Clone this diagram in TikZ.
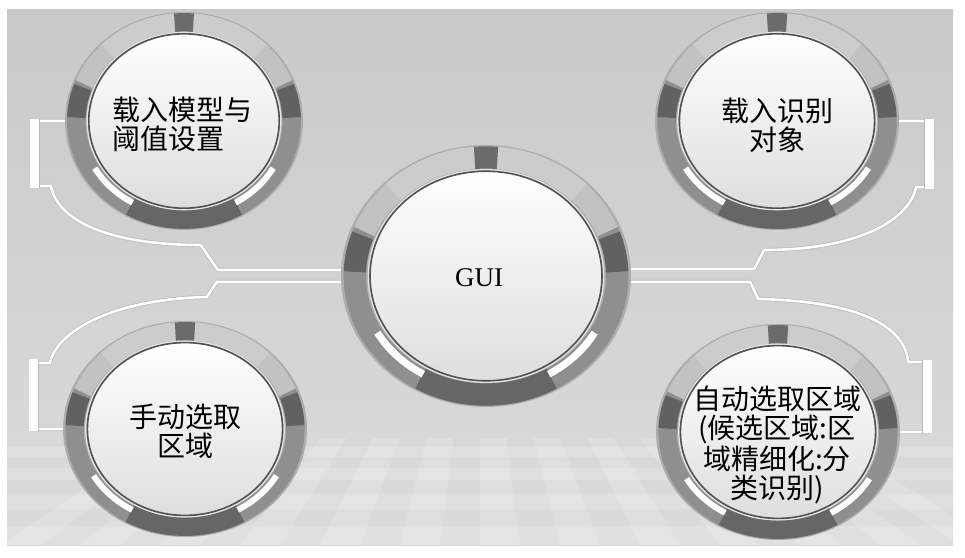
\documentclass[tikz,border=0pt]{standalone}
\usepackage{fontspec}
\setmainfont{Liberation Serif}
\newfontfamily\cjk{Noto Sans CJK SC}
\usetikzlibrary{shapes.geometric, calc}

\tikzset{
    dialshape/.style={ellipse, draw=none, inner sep=0pt},
    dialtext/.style={font=\cjk\fontsize{28}{29}\selectfont, align=center, inner sep=0pt},
    track/.style={draw=black!28, double=white, double distance=2.6pt, line width=0.7pt},
    trackbar/.style={draw=black!28, double=white, double distance=9pt, line width=0.7pt},
}

% ring round a dial node: node, x radius, y radius
\newcommand{\dialring}[3]{%
    \pgfmathsetmacro{\rout}{#3}
    \pgfmathsetmacro{\rmid}{0.905*#3}
    \pgfmathsetmacro{\rstrip}{0.865*#3}
    \pgfmathsetmacro{\bandw}{0.17*#3}
    \pgfmathsetmacro{\stripw}{0.055*#3}
    \pgfmathsetmacro{\rin}{0.80*#3}
    \begin{scope}[shift={(#1.center)}, xscale=#2/#3]
        \fill[black!32] (0,0) circle[radius=\rout];
        \draw[black!44, line width=\bandw pt] (0,0) circle[radius=\rmid];
        \foreach \a/\b/\c in {22/158/black!24, 45/135/black!20, 2/20/black!62, 160/178/black!62,
                              240/300/black!60, 85/95/black!58}
            \draw[\c, line width=\bandw pt] (\a:\rmid) arc[start angle=\a, end angle=\b, radius=\rmid];
        \foreach \a/\b in {210/240, 300/330}
            \draw[white, line width=\stripw pt] (\a:\rstrip) arc[start angle=\a, end angle=\b, radius=\rstrip];
        \draw[black!10, line width=1.4pt] (0,0) circle[radius=\rin+1.4];
        \draw[black!68, line width=1.6pt, top color=white, bottom color=black!13] (0,0) circle[radius=\rin];
    \end{scope}}

\begin{document}
\begin{tikzpicture}[x=1pt, y=1pt]
    \useasboundingbox (0,0) rectangle (965,557);

    \node[dialshape, minimum width=238, minimum height=218] (tl) at (184,436) {};
    \node[dialshape, minimum width=244, minimum height=218] (tr) at (777,436) {};
    \node[dialshape, minimum width=290, minimum height=262] (gui) at (486,281) {};
    \node[dialshape, minimum width=244, minimum height=216] (bl) at (185,128) {};
    \node[dialshape, minimum width=244, minimum height=216] (br) at (778,125) {};

    % panel and floor
    \fill[top color=black!21, bottom color=black!14] (7,12) rectangle (953,547);
    \begin{scope}
        \clip (7,12) rectangle (953,119);
        \foreach \xb in {0,80,...,960}
            \fill[white, opacity=0.16] (\xb,12) -- (\xb+40,12) -- ({480+(\xb+40-480)*0.667},119) -- ({480+(\xb-480)*0.667},119) -- cycle;
        \foreach \ya/\yb in {12/31, 48/63, 77/89, 100/110}
            \fill[white, opacity=0.16] (7,\ya) rectangle (953,\yb);
    \end{scope}

    % connectors
    \draw[track] (tl.west) -- ++(-30,0) -- ++(0,-65) -- ++(16,0)
        .. controls +(8,-38) and +(-85,0) .. ++(150,-59) -- ++(17,-25) -- ($(gui.west)+(0,6)$);
    \draw[trackbar] ($(tl.west)+(-30,2)$) -- ++(0,-69);

    \draw[track] ($(gui.west)+(0,-6)$) -- ++(-124,0) -- ++(-10,-15)
        .. controls +(-90,-2) and +(8,34) .. ++(-157,-66) -- ++(-16,0) |- (bl.west);
    \draw[trackbar] ($(bl.west)+(-29,70)$) -- ++(0,-72);

    \draw[track] (tr.east) -- ++(30,0) -- ++(0,-66) -- ++(-13,0)
        .. controls +(-8,-36) and +(88,0) .. ++(-152,-63) -- ++(-10,-19) -- ($(gui.east)+(0,7)$);
    \draw[trackbar] ($(tr.east)+(30,2)$) -- ++(0,-70);

    \draw[track] ($(gui.east)+(0,-6)$) -- ++(119,0) -- ++(8,-17)
        .. controls +(92,-2) and +(-4,40) .. ++(150,-63) -- ++(19,0) |- (br.east);
    \draw[trackbar] ($(br.east)+(27,72)$) -- ++(0,-73);

    % rings
    \dialring{tl}{119}{109}
    \dialring{tr}{122}{109}
    \dialring{gui}{145}{131}
    \dialring{bl}{122}{108}
    \dialring{br}{122}{108}

    % texts
    \node[dialtext, align=left] (tltext) at ($(tl)+(-2,-3)$) {载入模型与\\阈值设置};
    \node[dialtext] (trtext) at ($(tr)+(0,-4)$) {载入识别\\对象};
    \node[font=\fontsize{27}{30}\selectfont, inner sep=0pt] (guitext) at ($(gui)+(-7,-2)$) {GUI};
    \node[dialtext] (bltext) at ($(bl)+(0,-2)$) {手动选取\\区域};
    \node[dialtext] (brtext) at ($(br)+(-1,-13)$) {自动选取区域\\(候选区域:区\\域精细化:分\\类识别)};
\end{tikzpicture}
\end{document}
